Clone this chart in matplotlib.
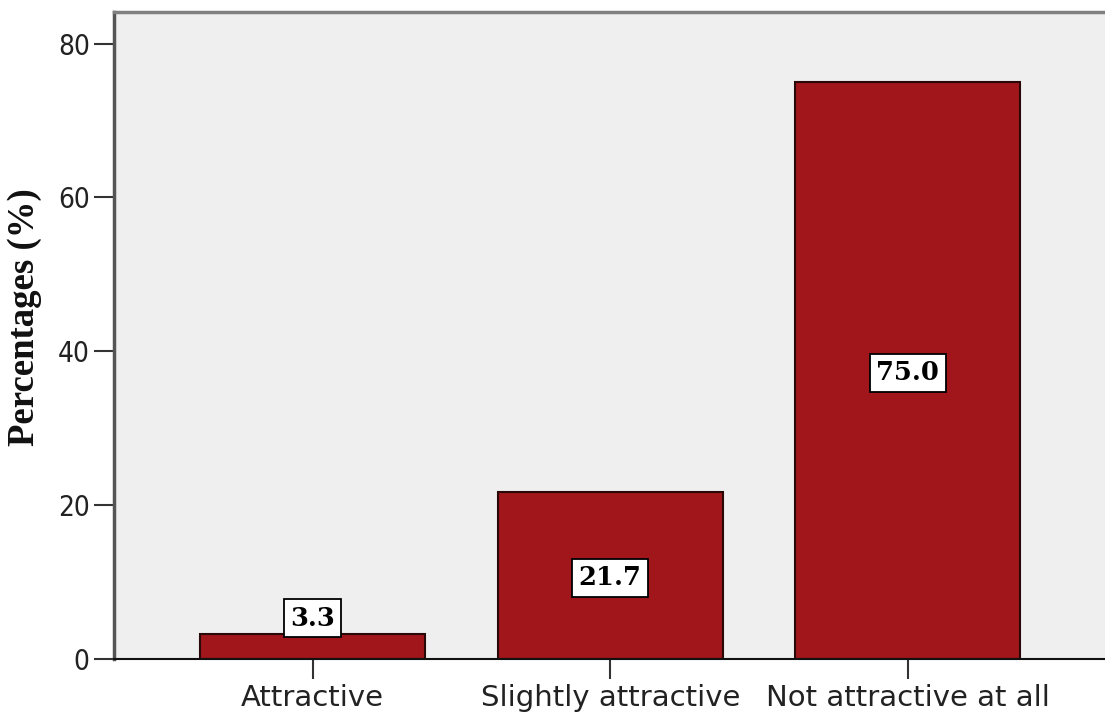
import matplotlib
matplotlib.use("Agg")
import matplotlib.pyplot as plt

categories = ["Attractive", "Slightly attractive", "Not attractive at all"]
percentages = [3.3, 21.7, 75.0]
y_ticks = [0, 20, 40, 60, 80]

fig = plt.figure(figsize=(11.05, 7.16), dpi=100)
ax = fig.add_axes([114 / 1105, 1 - 659 / 716, 1 - 114 / 1105, (659 - 12) / 716])
ax.set_facecolor("#efefef")

x = list(range(len(categories)))
ax.bar(x, percentages, width=0.756, color="#a0161a", edgecolor="#2a0808",
       linewidth=1.5, zorder=2)

# value boxes sit at mid-height, but never lower than a readable minimum
for xi, v in zip(x, percentages):
    ypos = max(v / 2 - 0.3, 5.3)
    ax.text(xi, ypos, f"{v:.1f}", ha="center", va="center",
            family=["DejaVu Serif"], fontweight="bold", fontsize=18.5,
            color="black", zorder=3,
            bbox=dict(boxstyle="square,pad=0.25", facecolor="white",
                      edgecolor="black", linewidth=1.3))

ax.set_xlim(-0.667, 2.662)
ax.set_ylim(0, 84.1)
ax.set_xticks(x)
ax.set_xticklabels(categories)
ax.set_yticks(y_ticks)

ax.tick_params(axis="both", direction="out", length=14.5, width=1.5,
               colors="#333333")
ax.tick_params(axis="x", pad=3.5, labelsize=21)
ax.tick_params(axis="y", pad=3, labelsize=20)
for lbl in ax.get_xticklabels():
    lbl.set_family(["DejaVu Sans"])
    lbl.set_color("#222222")
for lbl in ax.get_yticklabels():
    lbl.set_family(["DejaVu Sans"])
    lbl.set_stretch("condensed")
    lbl.set_color("#222222")

ax.set_ylabel("Percentages (%)", family=["Liberation Serif"], fontweight="bold",
              fontsize=26.5, color="#111111")
ax.yaxis.set_label_coords(-72 / 991, 0.528)

ax.spines["right"].set_visible(False)
ax.spines["left"].set_color("#555555")
ax.spines["left"].set_linewidth(2.5)
ax.spines["top"].set_color("#808080")
ax.spines["top"].set_linewidth(2.5)
ax.spines["bottom"].set_color("#111111")
ax.spines["bottom"].set_linewidth(1.5)

fig.savefig("out.png", dpi=100, facecolor="white")
